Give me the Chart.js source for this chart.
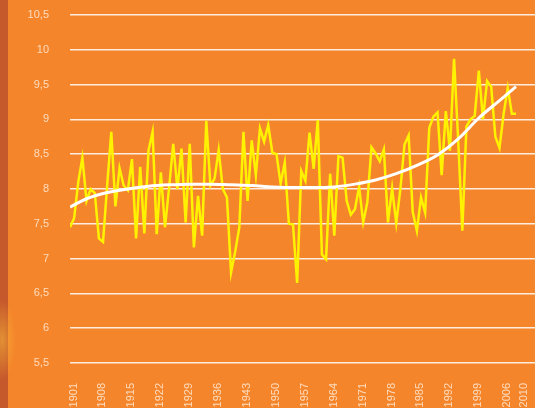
<!DOCTYPE html>
<html>
<head>
<meta charset="utf-8">
<script src="https://cdn.jsdelivr.net/npm/chart.js@4/dist/chart.umd.min.js"></script>
<style>
  html, body { margin: 0; padding: 0; overflow: hidden; }
  body {
    width: 535px; height: 408px;
    background:
      radial-gradient(ellipse 14px 40px at 2px 340px, rgba(250,190,60,0.55), rgba(250,190,60,0) 100%),
      linear-gradient(to right, #c6592b 0, #c6592b 8px, #f4852a 8px, #f4852a 100%);
  }
  canvas { display: block; }
</style>
</head>
<body>
<canvas id="chart" width="535" height="408"></canvas>
<script>
// yearly temperature, 1901-2009
const years = [];
for (let y = 1901; y <= 2009; y++) years.push(y);

const temps = [
  7.45, 7.58, 8.1, 8.45, 7.83, 8.0, 7.94, 7.29, 7.24, 8.05,   // 1901-1910
  8.82, 7.75, 8.3, 8.05, 7.98, 8.43, 7.29, 8.32, 7.36, 8.55,   // 1911-1920
  8.82, 7.35, 8.24, 7.45, 8.02, 8.65, 8.0, 8.58, 7.52, 8.65,   // 1921-1930
  7.16, 7.9, 7.33, 8.98, 8.05, 8.15, 8.56, 8.0, 7.88, 6.8,     // 1931-1940
  7.1, 7.45, 8.82, 7.83, 8.7, 8.2, 8.87, 8.68, 8.92, 8.52,     // 1941-1950
  8.5, 8.08, 8.38, 7.5, 7.49, 6.65, 8.26, 8.12, 8.81, 8.29,    // 1951-1960
  8.99, 7.06, 6.99, 8.22, 7.33, 8.47, 8.45, 7.83, 7.63, 7.71,  // 1961-1970
  8.03, 7.52, 7.81, 8.6, 8.51, 8.4, 8.57, 7.52, 8.01, 7.51,    // 1971-1980
  8.0, 8.64, 8.77, 7.67, 7.4, 7.88, 7.66, 8.88, 9.04, 9.1,     // 1981-1990
  8.2, 9.12, 8.55, 9.87, 8.7, 7.4, 8.9, 9.0, 9.05, 9.7,        // 1991-2000
  9.0, 9.55, 9.47, 8.75, 8.59, 9.08, 9.45, 9.08, 9.08          // 2001-2009
];

// smoothed trend
const trendYears = [1901, 1905, 1910, 1915, 1920, 1925, 1930, 1935, 1940, 1945, 1950, 1955,
                    1960, 1965, 1970, 1975, 1980, 1985, 1990, 1995, 2000, 2005, 2009];
const trendVals = [7.74, 7.86, 7.95, 8.0, 8.04, 8.06, 8.07, 8.07, 8.06, 8.05, 8.03, 8.02,
                   8.02, 8.03, 8.07, 8.13, 8.22, 8.34, 8.49, 8.72, 9.02, 9.27, 9.47];

const xTicks = [1901, 1908, 1915, 1922, 1929, 1936, 1943, 1950, 1957, 1964, 1971, 1978, 1985, 1992, 1999, 2006, 2010];

const labelColor = 'rgba(255,228,205,0.9)';

new Chart(document.getElementById('chart'), {
  type: 'line',
  data: {
    datasets: [
      {
        data: trendYears.map((y, i) => ({ x: y, y: trendVals[i] })),
        borderColor: '#ffffff',
        borderWidth: 3,
        pointRadius: 0,
        cubicInterpolationMode: 'monotone',
        fill: false
      },
      {
        data: years.map((y, i) => ({ x: y, y: temps[i] })),
        borderColor: '#fff200',
        borderWidth: 2.5,
        pointRadius: 0,
        tension: 0,
        fill: false
      }
    ]
  },
  options: {
    responsive: false,
    animation: false,
    layout: { padding: { top: 15, right: 0, bottom: 0, left: 0 } },
    plugins: {
      legend: { display: false },
      tooltip: { enabled: false }
    },
    scales: {
      x: {
        type: 'linear',
        min: 1901,
        max: 2013.6,
        afterBuildTicks: (scale) => {
          scale.ticks = xTicks.map(v => ({ value: v }));
        },
        afterFit: (scale) => {
          scale.height = 45;
          scale.paddingLeft = 0;
          scale.paddingRight = 0;
        },
        grid: { display: false, drawTicks: false },
        border: { display: false },
        ticks: {
          autoSkip: false,
          minRotation: 90,
          maxRotation: 90,
          padding: 20,
          labelOffset: 3.5,
          color: labelColor,
          font: { family: 'Liberation Sans', size: 11 },
          callback: (v) => String(v)
        }
      },
      y: {
        min: 5.5,
        max: 10.5,
        afterFit: (scale) => {
          scale.width = 70;
          scale.paddingTop = 0;
          scale.paddingBottom = 0;
        },
        grid: {
          color: 'rgba(255,255,255,0.85)',
          lineWidth: 1.5,
          drawTicks: false
        },
        border: { display: false },
        ticks: {
          stepSize: 0.5,
          padding: 21,
          color: labelColor,
          font: { family: 'Liberation Sans', size: 11 },
          callback: (v) => String(v).replace('.', ',')
        }
      }
    }
  }
});
</script>
</body>
</html>
